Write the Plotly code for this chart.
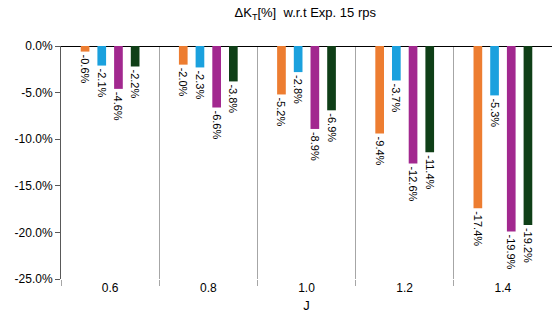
import plotly.graph_objects as go

categories = ["0.6", "0.8", "1.0", "1.2", "1.4"]
series_names = ["S1", "S2", "S3", "S4"]
s1 = [-0.6, -2.0, -5.2, -9.4, -17.4]
s2 = [-2.1, -2.3, -2.8, -3.7, -5.3]
s3 = [-4.6, -6.6, -8.9, -12.6, -19.9]
s4 = [-2.2, -3.8, -6.9, -11.4, -19.2]
colors = ["#ED7D31", "#1BA1DE", "#A2288F", "#0F3F17"]
y_ticks = [0, -5, -10, -15, -20, -25]

xpos = list(range(len(categories)))
fig = go.Figure()
for name, vals, c in zip(series_names, [s1, s2, s3, s4], colors):
    fig.add_trace(go.Bar(
        x=xpos, y=vals, name=name, marker=dict(color=c, line=dict(width=0)),
        text=[f"{v:.1f}%" for v in vals], textposition="outside", textangle=90,
        constraintext="none",
        textfont=dict(family="Liberation Sans, Arial", size=11, color="#000000"),
        cliponaxis=False,
    ))
# invisible trace for boundary grid axis
fig.add_trace(go.Scatter(x=[-0.5, 4.5], y=[0, 0], xaxis="x2", mode="lines",
                         line=dict(width=0), hoverinfo="skip", showlegend=False))

fig.update_layout(
    width=552, height=326,
    margin=dict(l=61, r=0, t=46, b=47),
    paper_bgcolor="white", plot_bgcolor="white",
    barmode="group", bargap=0.32, bargroupgap=0.48,
    showlegend=False,
    font=dict(family="Liberation Sans, Arial", size=12, color="#000000"),
    title=dict(text="ΔK<sub>T</sub>[%]  w.r.t Exp. 15 rps", x=0.553, xanchor="center",
               y=0.962, yanchor="middle",
               font=dict(family="Liberation Sans, Arial", size=13, color="#000000")),
    xaxis=dict(range=[-0.5, 4.5], tickvals=xpos, ticktext=categories,
               showgrid=False, zeroline=False, showline=False, ticks="",
               title=dict(text="J", standoff=6,
                          font=dict(size=13)),
               tickfont=dict(size=12)),
    xaxis2=dict(range=[-0.5, 4.5], overlaying="x", side="bottom",
                tickvals=[-0.5, 0.5, 1.5, 2.5, 3.5, 4.5], showticklabels=False,
                showgrid=True, gridcolor="#A6A6A6", gridwidth=1,
                ticks="outside", ticklen=6, tickcolor="#A6A6A6",
                zeroline=False, showline=False),
    yaxis=dict(range=[-25, 0], tickvals=y_ticks, ticktext=[f"{v:.1f}%" for v in y_ticks],
               showgrid=False, zeroline=True, zerolinecolor="#000000", zerolinewidth=1,
               showline=True, linecolor="#595959", linewidth=1,
               ticks="outside", ticklen=5, tickcolor="#595959",
               tickfont=dict(size=12)),
)
fig.write_html("out.html")
